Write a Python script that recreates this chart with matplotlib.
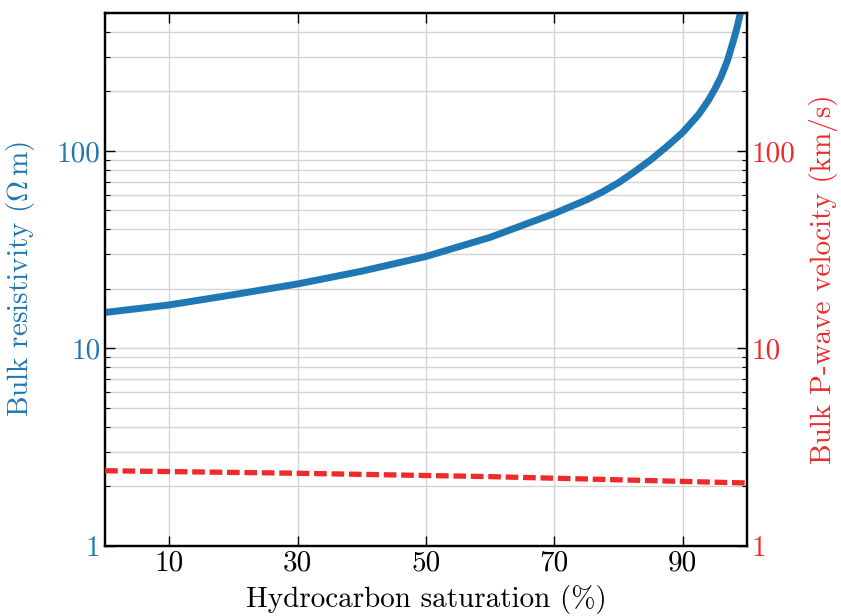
import matplotlib
matplotlib.use('Agg')
import matplotlib.pyplot as plt
from matplotlib.ticker import FixedLocator, LogLocator, NullFormatter

plt.rcParams['font.family'] = 'serif'
plt.rcParams['font.serif'] = ['cmr10']
plt.rcParams['mathtext.fontset'] = 'cm'
plt.rcParams['axes.formatter.use_mathtext'] = True

# hydrocarbon saturation (%) vs bulk resistivity (Ohm m)
sat = [0, 10, 20, 30, 40, 50, 60, 70, 75, 77.5, 80, 82.5, 85, 87.5, 90, 92.5, 94,
       95, 96, 97, 98, 98.5, 99, 99.3]
resistivity = [15.2, 16.6, 18.7, 21.2, 24.6, 29.2, 36.5, 48.2, 56.5, 62, 69, 78.5, 90,
               105, 124, 153, 180, 205, 238, 288, 370, 425, 500, 560]

# hydrocarbon saturation (%) vs bulk P-wave velocity (km/s)
sat_v = [0, 30, 60, 100]
velocity = [2.40, 2.33, 2.24, 2.08]

xticks = [10, 30, 50, 70, 90]
yticks = [1, 10, 100]
ytick_labels = ['1', '10', '100']

blue = '#1f77b4'
red = '#ee2a2a'

fig = plt.figure(figsize=(8.41, 6.16), dpi=100)
ax = fig.add_axes([0.125, 0.114, 0.763, 0.865])
ax2 = ax.twinx()

ax.plot(sat, resistivity, color=blue, lw=5.0, solid_capstyle='butt',
        solid_joinstyle='round', zorder=3)
ax2.plot(sat_v, velocity, color=red, lw=3.8, linestyle=(0, (2.4, 0.9)), zorder=3)

for a in (ax, ax2):
    a.set_yscale('log')
    a.set_ylim(1, 500)
    a.set_xlim(0, 100)
    a.yaxis.set_major_locator(FixedLocator(yticks))
    a.set_yticklabels(ytick_labels)
    a.yaxis.set_minor_locator(LogLocator(base=10, subs=range(2, 10)))
    a.yaxis.set_minor_formatter(NullFormatter())
    a.tick_params(which='major', direction='in', length=7, width=1, labelsize=21)
    a.tick_params(which='minor', direction='in', length=3.5, width=0.8)
    for s in a.spines.values():
        s.set_linewidth(1.6)

ax.set_xticks(xticks)
ax.set_xticklabels([str(t) for t in xticks])
ax.tick_params(axis='x', top=True)
ax.tick_params(axis='y', labelcolor=blue)
ax2.tick_params(axis='y', labelcolor=red)

ax.grid(True, which='major', color='#d4d4d4', lw=1.0)
ax.grid(True, which='minor', axis='y', color='#d4d4d4', lw=1.0)
ax.set_axisbelow(True)

ax.set_xlabel('Hydrocarbon saturation (%)', fontsize=21, labelpad=6)
ax.set_ylabel(r'Bulk resistivity ($\Omega\,$m)', fontsize=21, color=blue, labelpad=14)
ax2.set_ylabel('Bulk P-wave velocity (km/s)', fontsize=21, color=red, labelpad=10)

fig.savefig('out.png', dpi=100)
